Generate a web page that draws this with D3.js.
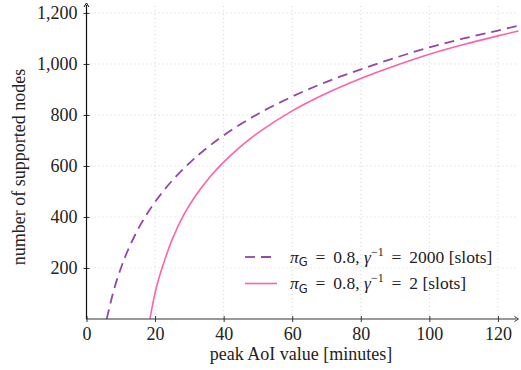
<!DOCTYPE html>
<html>
<head>
<meta charset="utf-8">
<script src="https://cdn.jsdelivr.net/npm/d3@7"></script>
<style>
  body { margin: 0; background: #fff; }
</style>
</head>
<body>
<div id="chart"></div>
<script>
// values
var xDashed = [5.9, 8, 10, 12, 15.6, 20, 25, 30, 33.6, 40, 50, 60, 70, 80, 90, 100, 110, 120, 126];
var yDashed = [0, 115, 198, 267, 366, 459, 543, 611, 654, 720, 804, 872, 930, 979, 1024, 1065, 1100, 1131, 1150];

var xSolid = [18.5, 19, 20, 21, 22.4, 25, 28.2, 32, 36, 40, 45, 50, 60, 70, 80, 90, 100, 110, 120, 126];
var ySolid = [0, 37, 102, 155, 215, 312, 404, 487, 557, 615, 677, 730, 816, 885, 943, 993, 1038, 1076, 1110, 1129];

var xTicks = [0, 20, 40, 60, 80, 100, 120];
var yTicks = [200, 400, 600, 800, 1000, 1200];

var W = 521, H = 370;
var x0 = 86.5, x1 = 518.5, yb = 319, yt = 3;
var FONT = "'Liberation Serif', serif";
var FS = 18;

var svg = d3.select("#chart").append("svg")
  .attr("width", W)
  .attr("height", H);

var x = d3.scaleLinear().domain([0, 126]).range([x0, x1]);
var y = d3.scaleLinear().domain([0, 1239]).range([yb, yt]);

// grid
svg.append("g").selectAll("line").data(xTicks.filter(function(d){ return d > 0; }))
  .enter().append("line")
  .attr("x1", function(d){ return x(d); }).attr("x2", function(d){ return x(d); })
  .attr("y1", yb).attr("y2", y(1239))
  .attr("stroke", "#c8c8c8").attr("stroke-width", 0.8)
  .attr("stroke-dasharray", "1,3");

svg.append("g").selectAll("line").data(yTicks)
  .enter().append("line")
  .attr("x1", x0).attr("x2", x1)
  .attr("y1", function(d){ return y(d); }).attr("y2", function(d){ return y(d); })
  .attr("stroke", "#c8c8c8").attr("stroke-width", 0.8)
  .attr("stroke-dasharray", "1,3");

// clip for curves
svg.append("clipPath").attr("id", "clip")
  .append("rect").attr("x", x0).attr("y", 0).attr("width", W - x0).attr("height", yb);

var line = d3.line()
  .curve(d3.curveCatmullRom)
  .x(function(d){ return x(d[0]); })
  .y(function(d){ return y(d[1]); });

var dashed = d3.zip(xDashed, yDashed);
var solid = d3.zip(xSolid, ySolid);

svg.append("path")
  .attr("d", line(dashed))
  .attr("clip-path", "url(#clip)")
  .attr("fill", "none")
  .attr("stroke", "#9348a6")
  .attr("stroke-width", 1.8)
  .attr("stroke-dasharray", "10,6");

svg.append("path")
  .attr("d", line(solid))
  .attr("clip-path", "url(#clip)")
  .attr("fill", "none")
  .attr("stroke", "#ff62a9")
  .attr("stroke-width", 1.6);

// axes
var xAxis = d3.axisBottom(x).tickValues(xTicks).tickSize(3).tickSizeOuter(0).tickPadding(5);
var gx = svg.append("g").attr("transform", "translate(0," + yb + ")").call(xAxis);
gx.select(".domain").remove();
gx.selectAll(".tick line").attr("y1", -3).attr("stroke", "#333");
gx.selectAll("text").style("font-family", FONT).style("font-size", FS + "px").attr("fill", "#222");

var yAxis = d3.axisLeft(y).tickValues(yTicks).tickSize(3).tickSizeOuter(0).tickPadding(6)
  .tickFormat(d3.format(","));
var gy = svg.append("g").attr("transform", "translate(" + x0 + ",0)").call(yAxis);
gy.select(".domain").remove();
gy.selectAll(".tick line").attr("x1", 3).attr("stroke", "#333");
gy.selectAll("text").style("font-family", FONT).style("font-size", FS + "px").attr("fill", "#222");

// axis lines with arrows
svg.append("line").attr("x1", x0 - 0.5).attr("x2", x1 - 2).attr("y1", yb).attr("y2", yb)
  .attr("stroke", "#333").attr("stroke-width", 1.2);
svg.append("path").attr("d", "M" + (x1 - 4) + "," + (yb - 2.5) + " L" + (x1) + "," + yb + " L" + (x1 - 4) + "," + (yb + 2.5))
  .attr("fill", "none").attr("stroke", "#333").attr("stroke-width", 1);

svg.append("line").attr("x1", x0).attr("x2", x0).attr("y1", yb).attr("y2", yt + 2)
  .attr("stroke", "#111").attr("stroke-width", 1.2);
svg.append("path").attr("d", "M" + (x0 - 2.5) + "," + (yt + 4) + " L" + x0 + "," + yt + " L" + (x0 + 2.5) + "," + (yt + 4))
  .attr("fill", "none").attr("stroke", "#111").attr("stroke-width", 1);

// axis titles
svg.append("text")
  .attr("x", 301).attr("y", 360)
  .attr("text-anchor", "middle")
  .style("font-family", FONT).style("font-size", FS + "px")
  .attr("fill", "#222")
  .text("peak AoI value [minutes]");

svg.append("text")
  .attr("transform", "translate(25,167) rotate(-90)")
  .attr("text-anchor", "middle")
  .style("font-family", FONT).style("font-size", FS + "px")
  .attr("fill", "#222")
  .text("number of supported nodes");

// legend
var legend = [
  { gamma: "2000", color: "#9348a6", dash: "10,6", width: 1.8 },
  { gamma: "2", color: "#ff62a9", dash: null, width: 1.6 }
];
var lg = svg.append("g").selectAll("g").data(legend).enter().append("g")
  .attr("transform", function(d, i){ return "translate(245," + (257 + i * 26.5) + ")"; });

lg.append("line")
  .attr("x1", 0).attr("x2", 32).attr("y1", 0).attr("y2", 0)
  .attr("stroke", function(d){ return d.color; })
  .attr("stroke-width", function(d){ return d.width; })
  .attr("stroke-dasharray", function(d){ return d.dash; });

var t = lg.append("text").attr("x", 45).attr("y", 5.5)
  .style("font-family", FONT).style("font-size", "17.5px")
  .attr("fill", "#222");
t.append("tspan").attr("font-style", "italic").text("π");
t.append("tspan").style("font-family", "'DejaVu Sans', sans-serif").style("font-size", "11.5px")
  .attr("dy", 3.5).text("G");
t.append("tspan").attr("dy", -3.5).text("\u2009 = \u20090.8, ");
t.append("tspan").attr("font-style", "italic").text("γ");
t.append("tspan").style("font-size", "12px").attr("dy", -7).text("−1");
t.append("tspan").attr("dy", 7).text(function(d){ return "\u2009 = \u2009" + d.gamma + " [slots]"; });
</script>
</body>
</html>
